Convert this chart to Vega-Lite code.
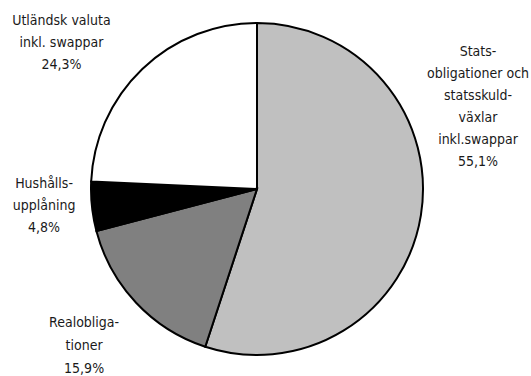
{
  "$schema": "https://vega.github.io/schema/vega-lite/v6.json",
  "width": 514,
  "height": 378,
  "autosize": {"type": "pad"},
  "padding": 0,
  "background": "white",
  "view": {"stroke": null},
  "data": {"values": [
    {"kategori": "Stats", "ordning": 1, "andel": 55.1, "etikett": "Stats-\nobligationer och\nstatsskuld-\nväxlar\ninkl.swappar\n55,1%"},
    {"kategori": "Real", "ordning": 2, "andel": 15.9, "etikett": "Realobliga-\ntioner\n15,9%"},
    {"kategori": "Hush", "ordning": 3, "andel": 4.8, "etikett": "Hushålls-\nupplåning\n4,8%"},
    {"kategori": "Utl", "ordning": 4, "andel": 24.3, "etikett": "Utländsk valuta\ninkl. swappar\n24,3%"}
  ]},
  "transform": [{"stack": "andel", "groupby": [], "sort": [{"field": "ordning", "order": "ascending"}], "as": ["v0", "v1"]}],
  "layer": [
    {
      "mark": {"type": "arc", "outerRadius": 166, "stroke": "black", "strokeWidth": 2},
      "encoding": {
        "theta": {"field": "v0", "type": "quantitative", "scale": {"domain": [0, 100.1]}},
        "theta2": {"field": "v1"},
        "color": {"field": "kategori", "type": "nominal", "legend": null,
          "scale": {"domain": ["Stats", "Real", "Hush", "Utl"], "range": ["#c0c0c0", "#808080", "#000000", "#ffffff"]}}
      }
    },
    {
      "transform": [{"filter": "datum.kategori == 'Stats'"}],
      "mark": {"type": "text", "thetaOffset": 1.016, "lineBreak": "\n", "font": "DejaVu Sans Condensed", "fontSize": 14, "lineHeight": 22, "align": "center", "baseline": "middle", "color": "#1a1a1a", "clip": false},
      "encoding": {
        "theta": {"field": "v0", "type": "quantitative", "scale": {"domain": [0, 100.1]}},
        "radius": {"value": 260},
        "text": {"field": "etikett"}
      }
    },
    {
      "transform": [{"filter": "datum.kategori == 'Real'"}],
      "mark": {"type": "text", "thetaOffset": 0.593, "lineBreak": "\n", "font": "DejaVu Sans Condensed", "fontSize": 14, "lineHeight": 23, "align": "center", "baseline": "middle", "color": "#1a1a1a"},
      "encoding": {
        "theta": {"field": "v0", "type": "quantitative", "scale": {"domain": [0, 100.1]}},
        "radius": {"value": 219},
        "text": {"field": "etikett"}
      }
    },
    {
      "transform": [{"filter": "datum.kategori == 'Hush'"}],
      "mark": {"type": "text", "thetaOffset": 0.279, "lineBreak": "\n", "font": "DejaVu Sans Condensed", "fontSize": 14, "lineHeight": 22, "align": "center", "baseline": "middle", "color": "#1a1a1a"},
      "encoding": {
        "theta": {"field": "v0", "type": "quantitative", "scale": {"domain": [0, 100.1]}},
        "radius": {"value": 213},
        "text": {"field": "etikett"}
      }
    },
    {
      "transform": [{"filter": "datum.kategori == 'Utl'"}],
      "mark": {"type": "text", "thetaOffset": 0.665, "lineBreak": "\n", "font": "DejaVu Sans Condensed", "fontSize": 14, "lineHeight": 22, "align": "center", "baseline": "middle", "color": "#1a1a1a"},
      "encoding": {
        "theta": {"field": "v0", "type": "quantitative", "scale": {"domain": [0, 100.1]}},
        "radius": {"value": 258},
        "text": {"field": "etikett"}
      }
    }
  ]
}
